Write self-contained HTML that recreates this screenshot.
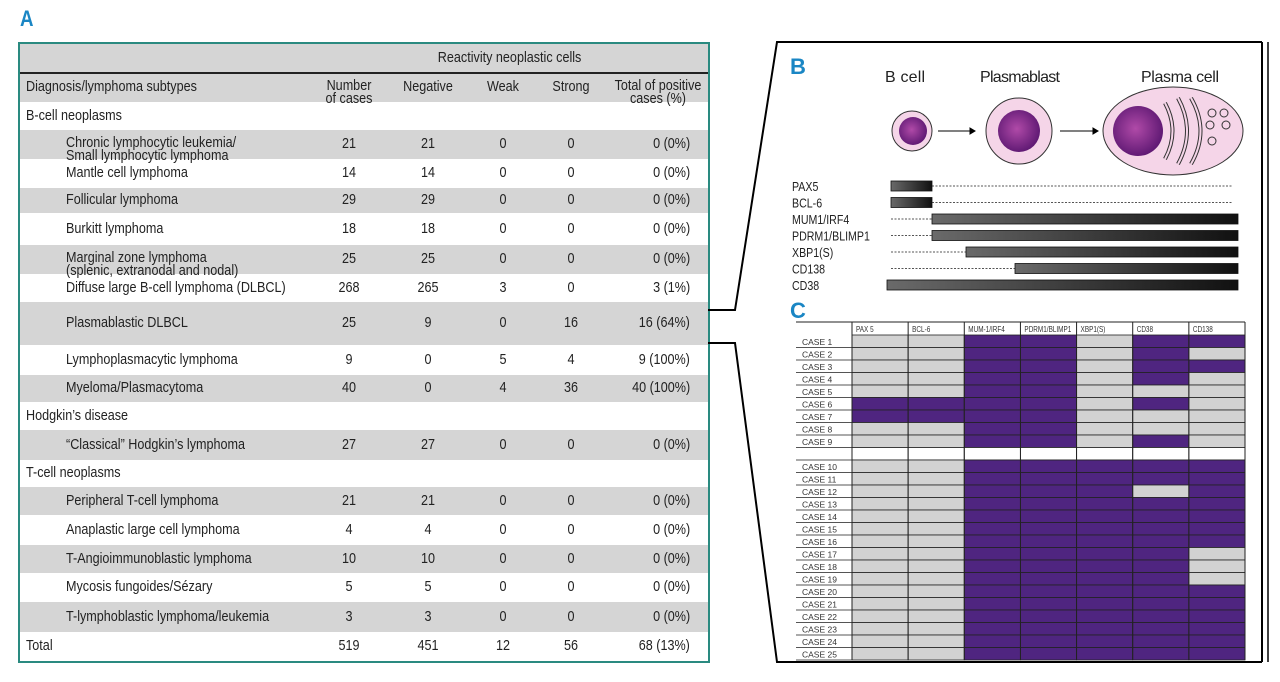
<!DOCTYPE html>
<html><head><meta charset="utf-8">
<style>
body{margin:0;width:1280px;height:682px;background:#fff;position:relative;overflow:hidden;font-family:"Liberation Sans",sans-serif;color:#222}
.abs{position:absolute}
.lbl{position:absolute;color:#1a86c4;font-weight:bold;font-size:22px;font-family:"Liberation Sans",sans-serif;transform:scaleX(0.85);transform-origin:left}
#tbl{position:absolute;left:18px;top:42px;width:688px;height:617px;border:2px solid #2a8a80;overflow:hidden}
.row{position:absolute;left:0;width:688px}
.cell{position:absolute;font-size:15px;white-space:nowrap;line-height:13px;transform:scaleX(0.84)}
.g{background:#d5d5d5}
</style></head><body>
<div class="lbl" style="left:20px;top:6px">A</div>
<div id="tbl"></div>

<svg class="abs" style="left:0;top:0" width="1280" height="682">
 <defs>
  <radialGradient id="nuc" cx="45%" cy="45%" r="60%"><stop offset="0" stop-color="#b04aa8"/><stop offset="1" stop-color="#5a1670"/></radialGradient>
  <linearGradient id="bar" x1="0" x2="1"><stop offset="0" stop-color="#6a6a6a"/><stop offset="1" stop-color="#111"/></linearGradient>
 </defs>
 <g stroke="#000" stroke-width="2" fill="none">
  <polyline points="708,310 735,310 777,42 1262,42"/>
  <polyline points="708,343 735,343 777,662 1262,662"/>
  <line x1="1262" y1="42" x2="1262" y2="662"/>
  <line x1="1268" y1="42" x2="1268" y2="662" stroke-width="1.5"/>
 </g>
 <text x="790" y="74" fill="#1a86c4" font-weight="bold" font-size="22" font-family="Liberation Sans,sans-serif">B</text>
 <g font-family="Liberation Sans,sans-serif" font-size="16" fill="#222" text-anchor="middle">
  <text x="905" y="82" textLength="40">B cell</text>
  <text x="1020" y="82" textLength="80">Plasmablast</text>
  <text x="1180" y="82" textLength="78">Plasma cell</text>
 </g>
 <g>
  <circle cx="912" cy="131" r="20" fill="#f5d5e8" stroke="#333"/>
  <circle cx="913" cy="131" r="14" fill="url(#nuc)"/>
 </g>
 <g stroke="#000">
  <line x1="938" y1="131" x2="970" y2="131"/><polygon points="970,128 975,131 970,134" fill="#000"/>
  <line x1="1060" y1="131" x2="1093" y2="131"/><polygon points="1093,128 1098,131 1093,134" fill="#000"/>
 </g>
 <g>
  <circle cx="1019" cy="131" r="33" fill="#f5d5e8" stroke="#333"/>
  <circle cx="1019" cy="131" r="21" fill="url(#nuc)"/>
 </g>
 <g>
  <ellipse cx="1173" cy="131" rx="70" ry="44" fill="#f5d5e8" stroke="#333"/>
  <circle cx="1138" cy="131" r="25" fill="url(#nuc)"/>
  <path d="M1165,103 Q1180,131 1165,159" fill="none" stroke="#333" stroke-width="4"/>
  <path d="M1178,98 Q1196,131 1178,164" fill="none" stroke="#333" stroke-width="4"/>
  <path d="M1191,98 Q1210,131 1191,164" fill="none" stroke="#333" stroke-width="4"/>
  <path d="M1165,103 Q1180,131 1165,159" fill="none" stroke="#f5d5e8" stroke-width="2"/>
  <path d="M1178,98 Q1196,131 1178,164" fill="none" stroke="#f5d5e8" stroke-width="2"/>
  <path d="M1191,98 Q1210,131 1191,164" fill="none" stroke="#f5d5e8" stroke-width="2"/>
  <g fill="none" stroke="#333"><circle cx="1212" cy="113" r="4"/><circle cx="1224" cy="113" r="4"/><circle cx="1210" cy="125" r="4"/><circle cx="1226" cy="125" r="4"/><circle cx="1212" cy="141" r="4"/></g>
 </g>
 <g id="markers"></g>
 <text x="790" y="318" fill="#1a86c4" font-weight="bold" font-size="22" font-family="Liberation Sans,sans-serif">C</text>
 <g id="heat"></g>
</svg>

<script>
// ---- Table data ----
const rowNames=["","Diagnosis/lymphoma subtypes","B-cell neoplasms","Chronic lymphocytic leukemia/|Small lymphocytic lymphoma","Mantle cell lymphoma","Follicular lymphoma","Burkitt lymphoma","Marginal zone lymphoma|(splenic, extranodal and nodal)","Diffuse large B-cell lymphoma (DLBCL)","Plasmablastic DLBCL","Lymphoplasmacytic lymphoma","Myeloma/Plasmacytoma","Hodgkin’s disease","“Classical” Hodgkin’s lymphoma","T-cell neoplasms","Peripheral T-cell lymphoma","Anaplastic large cell lymphoma","T-Angioimmunoblastic lymphoma","Mycosis fungoides/Sézary","T-lymphoblastic lymphoma/leukemia","Total"];
const rowTops=[0,29,58,86,115,144,169,201,230,258,301,331,358,386,416,443,471,501,529,558,588];
const rowBottoms=[29,58,86,115,144,169,201,230,258,301,331,358,386,416,443,471,501,529,558,588,617];
const rowGray=[1,1,0,1,0,1,0,1,0,1,0,1,0,1,0,1,0,1,0,1,0];
const rowIndent=[0,0,0,1,1,1,1,1,1,1,1,1,0,1,0,1,1,1,1,1,0];
const nCases=["","Number|of cases","","21","14","29","18","25","268","25","9","40","","27","","21","4","10","5","3","519"];
const nNeg=["","Negative","","21","14","29","18","25","265","9","0","0","","27","","21","4","10","5","3","451"];
const nWeak=["","Weak","","0","0","0","0","0","3","0","5","4","","0","","0","0","0","0","0","12"];
const nStrong=["","Strong","","0","0","0","0","0","0","16","4","36","","0","","0","0","0","0","0","56"];
const nTotal=["","Total of positive|cases (%)","","0 (0%)","0 (0%)","0 (0%)","0 (0%)","0 (0%)","3 (1%)","16 (64%)","9 (100%)","40 (100%)","","0 (0%)","","0 (0%)","0 (0%)","0 (0%)","0 (0%)","0 (0%)","68 (13%)"];
const tbl=document.getElementById('tbl');
function txt(parent,s,left,center,right,top,h,align){
  const d=document.createElement('div');
  d.className='cell';
  const lines=s.split('|');
  d.innerHTML=lines.join('<br>');
  const th=lines.length*13;
  d.style.top=(top+(lines.length>1?6:Math.max(4,(h-th)/2-1)))+'px';
  if(align==='c'){d.style.left=(center-80)+'px';d.style.width='160px';d.style.textAlign='center';d.style.transformOrigin='center';}
  else if(align==='r'){d.style.right=(688-right)+'px';d.style.textAlign='right';d.style.transformOrigin='right';}
  else {d.style.left=left+'px';d.style.transformOrigin='left';}
  parent.appendChild(d);return d;
}
for(let i=0;i<rowNames.length;i++){
  const r=document.createElement('div');
  r.className='row'+(rowGray[i]?' g':'');
  r.style.top=rowTops[i]+'px';r.style.height=(rowBottoms[i]-rowTops[i])+'px';
  
  
  tbl.appendChild(r);
  const h=rowBottoms[i]-rowTops[i];
  if(i===0){const c=txt(r,"Reactivity neoplastic cells",0,485,0,0,h,'c');
    
    
    continue;}
  let n=txt(r,rowNames[i],rowIndent[i]?46:6,0,0,0,h,'l');
  
  
  const cols=[[nCases,329],[nNeg,408],[nWeak,483],[nStrong,551]];
  for(const [arr,cx] of cols){ if(arr[i]){const c=txt(r,arr[i],0,cx,0,0,h,'c');
    
    }}
  if(nTotal[i]){const c=i===1?txt(r,nTotal[i],0,638,0,0,h,'c'):txt(r,nTotal[i],0,0,670,0,h,'r');
    
    }
}
const hl=document.createElement('div');
hl.style.cssText='position:absolute;left:0;top:28px;width:688px;height:2px;background:#222';


tbl.appendChild(hl);

// ---- Panel B markers ----
const NS='http://www.w3.org/2000/svg';
const markerNames=["PAX5","BCL-6","MUM1/IRF4","PDRM1/BLIMP1","XBP1(S)","CD138","CD38"];
const barStart=[891,891,932,932,966,1015,887];
const barEnd=[932,932,1238,1238,1238,1238,1238];
const dashStart=[932,932,891,891,891,891,0];
const dashEnd=[1233,1233,932,932,966,1015,0];
const mg=document.getElementById('markers');
markerNames.forEach((m,i)=>{
  const y=186+i*16.5;
  const t=document.createElementNS(NS,'text');
  t.setAttribute('x',792);t.setAttribute('y',y+5);t.setAttribute('font-size','12.5');
  t.setAttribute('font-family','Liberation Sans,sans-serif');t.setAttribute('fill','#222');
  t.setAttribute('transform','translate(792 0) scale(0.85 1) translate(-792 0)');
  t.textContent=m;
  
  
  mg.appendChild(t);
  if(dashEnd[i]>dashStart[i]){const l=document.createElementNS(NS,'line');
    l.setAttribute('x1',dashStart[i]);l.setAttribute('x2',dashEnd[i]);l.setAttribute('y1',y);l.setAttribute('y2',y);
    l.setAttribute('stroke','#555');l.setAttribute('stroke-dasharray','2,1.5');
    
    
    mg.appendChild(l);}
  const b=document.createElementNS(NS,'rect');
  b.setAttribute('x',barStart[i]);b.setAttribute('y',y-5);b.setAttribute('width',barEnd[i]-barStart[i]);b.setAttribute('height',10);
  b.setAttribute('fill','url(#bar)');b.setAttribute('stroke','#111');b.setAttribute('stroke-width','0.8');
  
  
  mg.appendChild(b);
});

// ---- Panel C heatmap ----
const heatCols=["PAX 5","BCL-6","MUM-1/IRF4","PDRM1/BLIMP1","XBP1(S)","CD38","CD138"];
const caseLabels=["CASE 1","CASE 2","CASE 3","CASE 4","CASE 5","CASE 6","CASE 7","CASE 8","CASE 9","","CASE 10","CASE 11","CASE 12","CASE 13","CASE 14","CASE 15","CASE 16","CASE 17","CASE 18","CASE 19","CASE 20","CASE 21","CASE 22","CASE 23","CASE 24","CASE 25"];
const heatValues=[
[0,0,1,1,0,1,1],[0,0,1,1,0,1,0],[0,0,1,1,0,1,1],[0,0,1,1,0,1,0],[0,0,1,1,0,0,0],
[1,1,1,1,0,1,0],[1,1,1,1,0,0,0],[0,0,1,1,0,0,0],[0,0,1,1,0,1,0],null,
[0,0,1,1,1,1,1],[0,0,1,1,1,1,1],[0,0,1,1,1,0,1],[0,0,1,1,1,1,1],[0,0,1,1,1,1,1],
[0,0,1,1,1,1,1],[0,0,1,1,1,1,1],[0,0,1,1,1,1,0],[0,0,1,1,1,1,0],[0,0,1,1,1,1,0],
[0,0,1,1,1,1,1],[0,0,1,1,1,1,1],[0,0,1,1,1,1,1],[0,0,1,1,1,1,1],[0,0,1,1,1,1,1],
[0,0,1,1,1,1,1]];
const hx0=852,hx1=1245,hy0=335,rowH=12.5,labX=796;
const colW=(hx1-hx0)/heatCols.length;
const xs=i=>hx0+i*colW, ys=r=>hy0+r*rowH;
const hg=document.getElementById('heat');
function mk(tag,attrs){const e=document.createElementNS(NS,tag);for(const k in attrs)e.setAttribute(k,attrs[k]);hg.appendChild(e);return e;}
heatCols.forEach((c,i)=>{
  const t=mk('text',{x:xs(i)+4,y:332,'font-size':'8','font-family':'Liberation Sans,sans-serif',fill:'#333',transform:'translate('+(xs(i)+4)+' 0) scale(0.8 1) translate('+(-(xs(i)+4))+' 0)'});
  t.textContent=c;
  
  
});
caseLabels.forEach((lab,r)=>{
  const vals=heatValues[r];
  heatCols.forEach((c,i)=>{
    const rc=mk('rect',{x:xs(i),y:ys(r),width:colW,height:rowH,fill:vals?(vals[i]?'#4f2580':'#d2d2d2'):'#fff',stroke:'#222','stroke-width':'0.8'});
    
    
  });
  if(lab){const t=mk('text',{x:labX+6,y:ys(r)+10,'font-size':'8.5','font-family':'Liberation Sans,sans-serif',fill:'#333'});
    t.textContent=lab;
    
    }
  const ln=mk('line',{x1:labX,x2:hx0,y1:ys(r+1),y2:ys(r+1),stroke:'#555','stroke-width':'1'});
  
  
});
const hdr=mk('line',{x1:labX,x2:hx1,y1:322,y2:322,stroke:'#222','stroke-width':'1'});


for(let i=0;i<=heatCols.length;i++){const l=mk('line',{x1:xs(i),x2:xs(i),y1:322,y2:ys(caseLabels.length),stroke:'#222','stroke-width':'1'});
  
  }
</script>
</body></html>
